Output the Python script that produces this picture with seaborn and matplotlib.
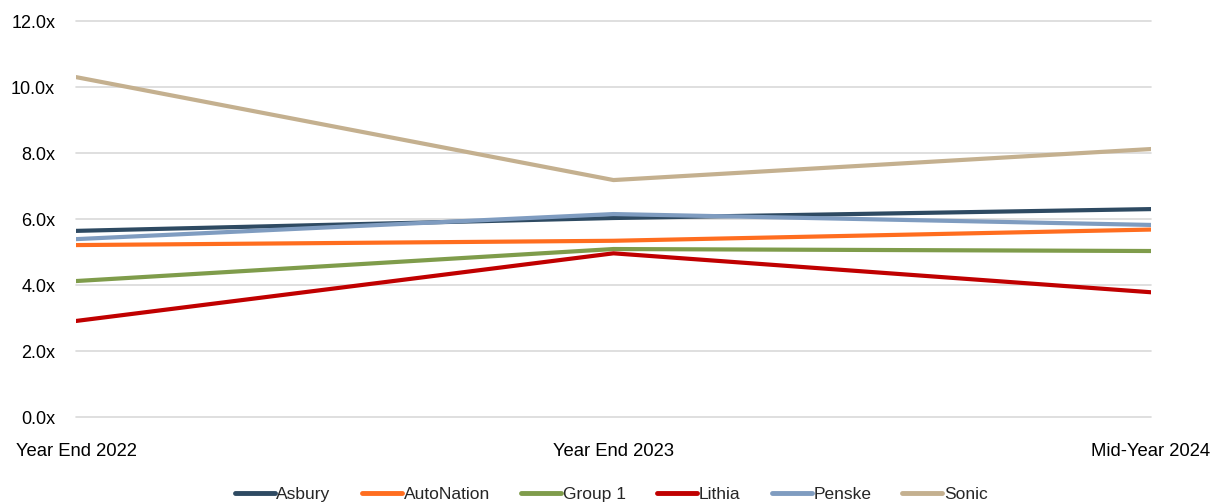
import matplotlib
matplotlib.use("Agg")
import matplotlib.pyplot as plt
from matplotlib.ticker import FuncFormatter
import pandas as pd
import seaborn as sns

periods = ["Year End 2022", "Year End 2023", "Mid-Year 2024"]
companies = ["Asbury", "AutoNation", "Group 1", "Lithia", "Penske", "Sonic"]

asbury = [5.64, 6.03, 6.30]
autonation = [5.21, 5.34, 5.68]
group1 = [4.12, 5.09, 5.03]
lithia = [2.91, 4.96, 3.78]
penske = [5.39, 6.15, 5.82]
sonic = [10.30, 7.18, 8.12]

colors = ["#2E4A62", "#FF6D1F", "#7F9C4B", "#C00000", "#7F9CC0", "#C4B08F"]

# long-form table for seaborn
series = [asbury, autonation, group1, lithia, penske, sonic]
rows = []
for name, vals in zip(companies, series):
    for i, v in enumerate(vals):
        rows.append({"period": periods[i], "pos": i, "company": name, "value": v})
df = pd.DataFrame(rows)

sns.set_style("white")
plt.rcParams["font.family"] = ["Liberation Sans", "DejaVu Sans"]

fig = plt.figure(figsize=(12.13, 5.03), dpi=100)
ax = fig.add_axes([76 / 1213, 1 - 417 / 503, (1151 - 76) / 1213, (417 - 21) / 503])

sns.lineplot(data=df, x="pos", y="value", hue="company", hue_order=companies,
             palette=colors, linewidth=3, sort=False, ax=ax, legend=True,
             solid_capstyle="round")

ax.set_xlim(0, 2)
ax.set_ylim(0, 12)
ax.set_yticks([0, 2, 4, 6, 8, 10, 12])
ax.yaxis.set_major_formatter(FuncFormatter(lambda v, p: f"{v:.1f}x"))
ax.set_xticks(range(len(periods)))
ax.set_xticklabels(periods)
ax.grid(axis="y", color="#D9D9D9", linewidth=1.2)
for gl in ax.get_ygridlines():
    gl.set_clip_on(False)
ax.set_axisbelow(True)
for s in ax.spines.values():
    s.set_visible(False)
ax.tick_params(axis="y", length=0, pad=15, labelsize=13, colors="#000000")
ax.tick_params(axis="x", length=0, pad=19, labelsize=13.3, colors="#000000")
ax.set_xlabel("")
ax.set_ylabel("")

handles, labels = ax.get_legend_handles_labels()
ax.get_legend().remove()
for h in handles:
    h.set_linewidth(3.5)
fig.legend(handles, labels, loc="lower center", bbox_to_anchor=(0.504, -0.03),
           ncol=6, frameon=False, handlelength=2.3, handletextpad=0.1,
           columnspacing=1.8, prop={"size": 12.5})

fig.savefig("out.png", dpi=100)
